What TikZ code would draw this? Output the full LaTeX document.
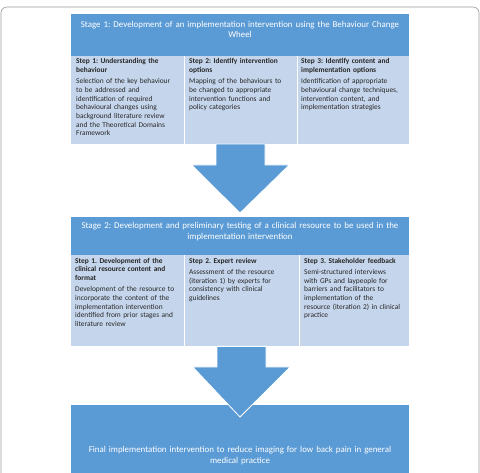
\documentclass[tikz,border=0pt]{standalone}
\usepackage{fontspec}
\setmainfont{Carlito}
\frenchspacing
\usetikzlibrary{calc}
\definecolor{hdblue}{HTML}{5B9BD5}
\definecolor{cellblue}{HTML}{C5D6EC}
\definecolor{celltext}{HTML}{262626}
\newcommand{\steptext}[2]{\textbf{#1}\\[2.6pt]#2}

\begin{document}
\begin{tikzpicture}[x=1pt,y=-1pt,
	stage/.style={fill=hdblue, minimum width=338pt, inner sep=0pt, outer sep=0pt, anchor=north},
	stagetext/.style={text=white, font=\fontsize{8.9}{10.6}\selectfont, align=center, text width=400pt, inner sep=0pt, anchor=north},
	stepcell/.style={fill=cellblue, inner sep=0pt, outer sep=0pt, anchor=north west},
	steptxt/.style={text=celltext, font=\fontsize{7.4}{8.7}\selectfont, align=left, text width=125pt, inner sep=0pt, anchor=north west},
	divider/.style={draw=white, line width=0.6pt},
	blockarrow/.style={fill=hdblue, draw=white, line width=0.8pt}]
	\useasboundingbox (0,0) rectangle (480,473);
	\draw [gray!80, line width=0.6pt, rounded corners=6pt] (1,7) rectangle (479,520);

	% stage 1
	\node [stage, minimum height=42pt] (s1) at (240,14) {};
	\node [stagetext] (s1t) at ($(s1.north)+(0,6.8)$) {Stage 1: Development of an implementation intervention using the Behaviour Change\\Wheel};
	\node [stepcell, minimum width=113pt, minimum height=88pt] (c11) at (s1.south west) {};
	\node [stepcell, minimum width=113pt, minimum height=88pt] (c12) at (c11.north east) {};
	\node [stepcell, minimum width=112pt, minimum height=88pt] (c13) at (c12.north east) {};
	\draw [divider] (c11.north east) -- (c11.south east);
	\draw [divider] (c12.north east) -- (c12.south east);
	\node [steptxt] (t11) at ($(c11.north west)+(5,2.3)$) {\steptext{Step 1: Understanding the\\behaviour}{Selection of the key behaviour\\to be addressed and\\identification of required\\behavioural changes using\\background literature review\\and the Theoretical Domains\\Framework}};
	\node [steptxt] (t12) at ($(c12.north west)+(5,2.3)$) {\steptext{Step 2: Identify intervention\\options}{Mapping of the behaviours to\\be changed to appropriate\\intervention functions and\\policy categories}};
	\node [steptxt] (t13) at ($(c13.north west)+(4,2.3)$) {\steptext{Step 3: Identify content and\\implementation options}{Identification of appropriate\\behavioural change techniques,\\intervention content, and\\implementation strategies}};

	% stage 2
	\node [stage, minimum height=38.3pt] (s2) at (240,216.7) {};
	\node [stagetext] (s2t) at ($(s2.north)+(0,5.6)$) {Stage 2: Development and preliminary testing of a clinical resource to be used in the\\implementation intervention};
	\node [stepcell, minimum width=113pt, minimum height=91pt] (c21) at (s2.south west) {};
	\node [stepcell, minimum width=115pt, minimum height=91pt] (c22) at (c21.north east) {};
	\node [stepcell, minimum width=110pt, minimum height=91pt] (c23) at (c22.north east) {};
	\draw [divider] (c21.north east) -- (c21.south east);
	\draw [divider] (c22.north east) -- (c22.south east);
	\node [steptxt] (t21) at ($(c21.north west)+(4,2.8)$) {\steptext{Step 1. Development of the\\clinical resource content and\\format}{Development of the resource to\\incorporate the content of the\\implementation intervention\\identified from prior stages and\\literature review}};
	\node [steptxt] (t22) at ($(c22.north west)+(5,2.8)$) {\steptext{Step 2. Expert review}{Assessment of the resource\\(iteration 1) by experts for\\consistency with clinical\\guidelines}};
	\node [steptxt] (t23) at ($(c23.north west)+(5,2.8)$) {\steptext{Step 3. Stakeholder feedback}{Semi-structured interviews\\with GPs and laypeople for\\barriers and facilitators to\\implementation of the\\resource (iteration 2) in clinical\\practice}};

	% final
	\node [stage, minimum height=80pt] (fin) at (240,405) {};
	\node [stagetext] (fint) at ($(fin.north)+(0,41.3)$) {Final implementation intervention to reduce imaging for low back pain in general\\medical practice};

	% arrows
	\filldraw [blockarrow] ($(c12.south)+(-24.5,0)$) -- ($(c12.south)+(24.5,0)$) -- ($(c12.south)+(24.5,21)$) -- ($(c12.south)+(48.7,21)$)
		-- ($(s2.north)+(0,-3.7)$) -- ($(c12.south)+(-48.7,21)$) -- ($(c12.south)+(-24.5,21)$) -- cycle;
	\filldraw [blockarrow] ($(c22.south)+(-24.5,0.4)$) -- ($(c22.south)+(24.5,0.4)$) -- ($(c22.south)+(24.5,21)$) -- ($(c22.south)+(48.7,21)$)
		-- ($(fin.north)+(0,12)$) -- ($(c22.south)+(-48.7,21)$) -- ($(c22.south)+(-24.5,21)$) -- cycle;
\end{tikzpicture}
\end{document}
